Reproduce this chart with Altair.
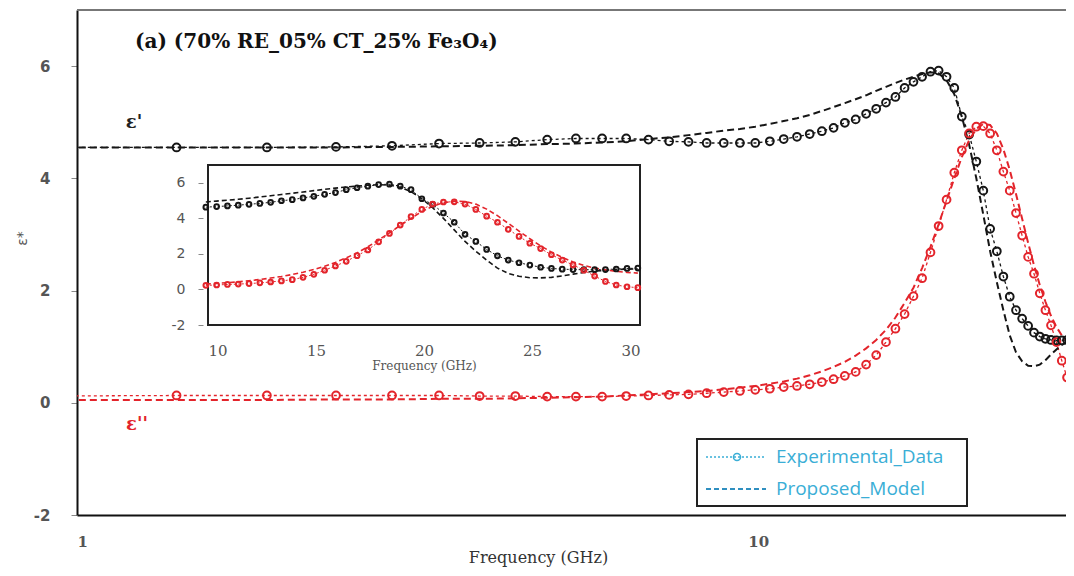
import altair as alt
import pandas as pd

# ---------------- data ----------------
freq = [0.9, 1.4, 1.9, 2.4, 2.9, 3.4, 3.9, 4.4, 4.9, 5.4, 5.9, 6.4, 6.9, 7.4, 7.9,
        8.4, 8.9, 9.4, 9.9, 10.4, 10.9, 11.4, 11.9, 12.4, 12.9, 13.4, 13.9, 14.4,
        14.9, 15.4, 15.9, 16.4, 16.9, 17.4, 17.9, 18.4, 18.9, 19.4, 19.9, 20.4,
        20.9, 21.4, 21.9, 22.4, 22.9, 23.4, 23.9, 24.4, 24.9, 25.4, 25.9, 26.4,
        26.9, 27.4, 27.9, 28.4, 28.9, 29.4, 29.9]

eps_real_exp = [4.55, 4.55, 4.55, 4.56, 4.58, 4.62, 4.63, 4.65, 4.69, 4.71, 4.71, 4.71,
                4.69, 4.66, 4.65, 4.63, 4.63, 4.63, 4.63, 4.66, 4.70, 4.74, 4.79, 4.84,
                4.90, 4.99, 5.05, 5.15, 5.24, 5.35, 5.45, 5.61, 5.72, 5.81, 5.90, 5.92,
                5.81, 5.61, 5.10, 4.78, 4.30, 3.78, 3.10, 2.70, 2.25, 1.89, 1.65, 1.50,
                1.37, 1.25, 1.18, 1.14, 1.12, 1.11, 1.11, 1.12, 1.15, 1.18, 1.20]

eps_real_model = [4.55, 4.55, 4.55, 4.55, 4.56, 4.57, 4.58, 4.59, 4.61, 4.62, 4.64, 4.66,
                  4.70, 4.73, 4.77, 4.81, 4.85, 4.88, 4.92, 4.97, 5.02, 5.07, 5.13, 5.20,
                  5.27, 5.34, 5.41, 5.48, 5.56, 5.63, 5.70, 5.76, 5.81, 5.86, 5.89, 5.87,
                  5.75, 5.50, 5.10, 4.60, 4.00, 3.35, 2.70, 2.15, 1.65, 1.20, 0.90, 0.74,
                  0.66, 0.65, 0.68, 0.76, 0.86, 0.95, 1.03, 1.08, 1.12, 1.14, 1.15]

eps_imag_exp = [0.12, 0.13, 0.13, 0.13, 0.13, 0.13, 0.12, 0.12, 0.11, 0.11, 0.11, 0.12,
                0.13, 0.14, 0.15, 0.17, 0.19, 0.21, 0.23, 0.25, 0.28, 0.30, 0.33, 0.37,
                0.42, 0.48, 0.55, 0.68, 0.85, 1.08, 1.32, 1.58, 1.90, 2.22, 2.68, 3.15,
                3.62, 4.10, 4.50, 4.80, 4.92, 4.93, 4.80, 4.50, 4.12, 3.78, 3.38, 2.98,
                2.60, 2.30, 1.95, 1.65, 1.38, 1.08, 0.75, 0.45, 0.25, 0.15, 0.10]

eps_imag_model = [0.05, 0.05, 0.05, 0.06, 0.06, 0.07, 0.07, 0.08, 0.09, 0.10, 0.11, 0.13,
                  0.15, 0.17, 0.19, 0.21, 0.24, 0.27, 0.30, 0.34, 0.38, 0.43, 0.49, 0.56,
                  0.64, 0.73, 0.84, 0.97, 1.12, 1.30, 1.52, 1.78, 2.05, 2.40, 2.78, 3.18,
                  3.60, 4.00, 4.38, 4.68, 4.88, 4.97, 4.95, 4.80, 4.52, 4.15, 3.72, 3.28,
                  2.85, 2.45, 2.10, 1.80, 1.55, 1.35, 1.20, 1.10, 1.02, 0.96, 0.92]

x_ticks_main = [1, 10]
y_ticks = [-2, 0, 2, 4, 6]
x_ticks_inset = [10, 15, 20, 25, 30]

rows = []
for i, f in enumerate(freq):
    rows.append({"f": f, "v": eps_real_exp[i], "part": "real", "kind": "exp"})
    rows.append({"f": f, "v": eps_real_model[i], "part": "real", "kind": "model"})
    rows.append({"f": f, "v": eps_imag_exp[i], "part": "imag", "kind": "exp"})
    rows.append({"f": f, "v": eps_imag_model[i], "part": "imag", "kind": "model"})
df = pd.DataFrame(rows)
exp_df = df[df["kind"] == "exp"]
mod_df = df[df["kind"] == "model"]
exp_in = exp_df[exp_df["f"] >= 9.9]
mod_in = mod_df[mod_df["f"] >= 9.9]
one = pd.DataFrame({"a": [0]})
frame_df = pd.DataFrame({"f": [10], "f2": [30], "v": [-2], "v2": [7]})

# ---------------- style ----------------
W, H = 989, 505
XMAX = 28.3
BLACK = "#161616"
RED = "#e3242b"
CYAN = "#3aaed6"
SERIF = "DejaVu Serif"
SANS = "DejaVu Sans"

color = alt.Color("part:N", scale=alt.Scale(domain=["real", "imag"], range=[BLACK, RED]), legend=None)

xm = alt.X("f:Q",
           scale=alt.Scale(type="log", domain=[1, XMAX], nice=False),
           axis=alt.Axis(values=x_ticks_main, labelExpr="datum.value", ticks=False, labelPadding=19,
                         labelFont=SERIF, labelFontSize=15, labelFontWeight="bold",
                         labelColor="#555", domainColor="#111", domainWidth=2, grid=False,
                         title="Frequency (GHz)", titleFont=SERIF, titleFontSize=16,
                         titleFontWeight="normal", titleColor="#333", titleX=461, titleY=42,
                         titleBaseline="middle", titleAlign="center"))
ym = alt.Y("v:Q",
           scale=alt.Scale(domain=[-2, 7], nice=False, zero=False),
           axis=alt.Axis(values=y_ticks, labelExpr="datum.value", tickSize=6, tickColor="#888",
                         labelPadding=21,
                         labelFont=SANS, labelFontSize=15, labelFontWeight="bold",
                         labelColor="#555", domainColor="#111", domainWidth=2, grid=False,
                         title="ε*", titleFont=SANS, titleFontSize=14, titleFontWeight="normal",
                         titleColor="#555", titleX=-55, titleY=228, titleAlign="center",
                         titleBaseline="middle"))

top_rule = alt.Chart(one).mark_rule(color="#777", strokeWidth=2).encode(
    x=alt.value(0), x2=alt.value(W), y=alt.value(0))

exp_line = alt.Chart(exp_df).mark_line(strokeDash=[3, 3], strokeWidth=1.3, clip=True).encode(
    x=xm, y=ym, color=color, detail="part:N")
exp_pts = alt.Chart(exp_df).mark_point(shape="circle", filled=False, size=60, strokeWidth=2,
                                       opacity=1, clip=True).encode(x=xm, y=ym, color=color)
mod_line = alt.Chart(mod_df).mark_line(strokeDash=[7, 4], strokeWidth=2, clip=True).encode(
    x=xm, y=ym, color=color, detail="part:N")

title_txt = alt.Chart(one).mark_text(align="left", baseline="middle", font=SERIF, fontSize=20,
                                     fontWeight="bold", color="#111").encode(
    x=alt.value(58), y=alt.value(32), text=alt.value("(a) (70% RE_05% CT_25% Fe₃O₄)"))
lab_r = alt.Chart(one).mark_text(align="center", baseline="middle", font=SERIF, fontSize=18,
                                 fontWeight="bold", color="#222").encode(
    x=alt.value(57), y=alt.value(113), text=alt.value("ε'"))
lab_i = alt.Chart(one).mark_text(align="center", baseline="middle", font=SERIF, fontSize=18,
                                 fontWeight="bold", color=RED).encode(
    x=alt.value(60), y=alt.value(415), text=alt.value("ε''"))

leg_box = alt.Chart(one).mark_rect(fill="white", stroke="#222", strokeWidth=2).encode(
    x=alt.value(620), x2=alt.value(890), y=alt.value(429), y2=alt.value(496))
leg_dot = alt.Chart(one).mark_rule(color=CYAN, strokeDash=[2, 2], strokeWidth=1.5).encode(
    x=alt.value(629), x2=alt.value(689), y=alt.value(447))
leg_circ = alt.Chart(one).mark_point(shape="circle", filled=False, color=CYAN, size=50,
                                     opacity=1, strokeWidth=1.5).encode(x=alt.value(660), y=alt.value(447))
leg_dash = alt.Chart(one).mark_rule(color="#2f8fc0", strokeDash=[5, 3], strokeWidth=2).encode(
    x=alt.value(629), x2=alt.value(689), y=alt.value(479))
leg_t1 = alt.Chart(one).mark_text(align="left", baseline="middle", font="Open Sans", fontSize=19,
                                  color=CYAN).encode(
    x=alt.value(699), y=alt.value(447), text=alt.value("Experimental_Data"))
leg_t2 = alt.Chart(one).mark_text(align="left", baseline="middle", font="Open Sans", fontSize=19,
                                  color=CYAN).encode(
    x=alt.value(699), y=alt.value(479), text=alt.value("Proposed_Model"))

main = alt.layer(top_rule, exp_line, mod_line, exp_pts, title_txt, lab_r, lab_i,
                 leg_box, leg_dot, leg_circ, leg_dash, leg_t1, leg_t2)

# ---------------- inset ----------------
xi = alt.X("f:Q",
           scale=alt.Scale(domain=[10, 30], range=[131, 563], nice=False, zero=False),
           axis=alt.Axis(orient="bottom", offset=-190, values=x_ticks_inset, ticks=False,
                         domain=False, labelPadding=18, labelFont=SERIF, labelFontSize=15,
                         labelColor="#555", grid=False, title="Frequency (GHz)",
                         titleFont=SERIF, titleFontSize=12, titleColor="#555",
                         titleFontWeight="normal", titlePadding=2))
yi = alt.Y("v:Q",
           scale=alt.Scale(domain=[-2, 7], range=[315, 155], nice=False, zero=False),
           axis=alt.Axis(orient="left", offset=-126, values=y_ticks, labelExpr="datum.value",
                         tickSize=5, tickColor="#888", labelPadding=13, labelFont=SANS,
                         labelFontSize=14, labelColor="#555", domain=False, grid=False,
                         title=None))

frame = alt.Chart(frame_df).mark_rect(fill="white", stroke="#222", strokeWidth=2).encode(
    x=xi, x2=alt.X2("f2:Q"), y=yi, y2=alt.Y2("v2:Q"))
in_exp_line = alt.Chart(exp_in).mark_line(strokeDash=[2, 2], strokeWidth=1).encode(
    x=xi, y=yi, color=color, detail="part:N")
in_mod_line = alt.Chart(mod_in).mark_line(strokeDash=[5, 3], strokeWidth=1.6).encode(
    x=xi, y=yi, color=color, detail="part:N")
in_pts = alt.Chart(exp_in).mark_point(shape="circle", filled=False, size=22, strokeWidth=2,
                                      opacity=1).encode(x=xi, y=yi, color=color)

inset = alt.layer(frame, in_exp_line, in_mod_line, in_pts)

chart = alt.layer(main, inset).resolve_scale(x="independent", y="independent").properties(
    width=W, height=H,
    autosize=alt.AutoSizeParams(type="none"),
    padding={"left": 69, "top": 2, "right": 0, "bottom": 53},
    background="white",
).configure_view(stroke=None)

chart.save("out.html", embed_options={"renderer": "svg", "actions": False})
